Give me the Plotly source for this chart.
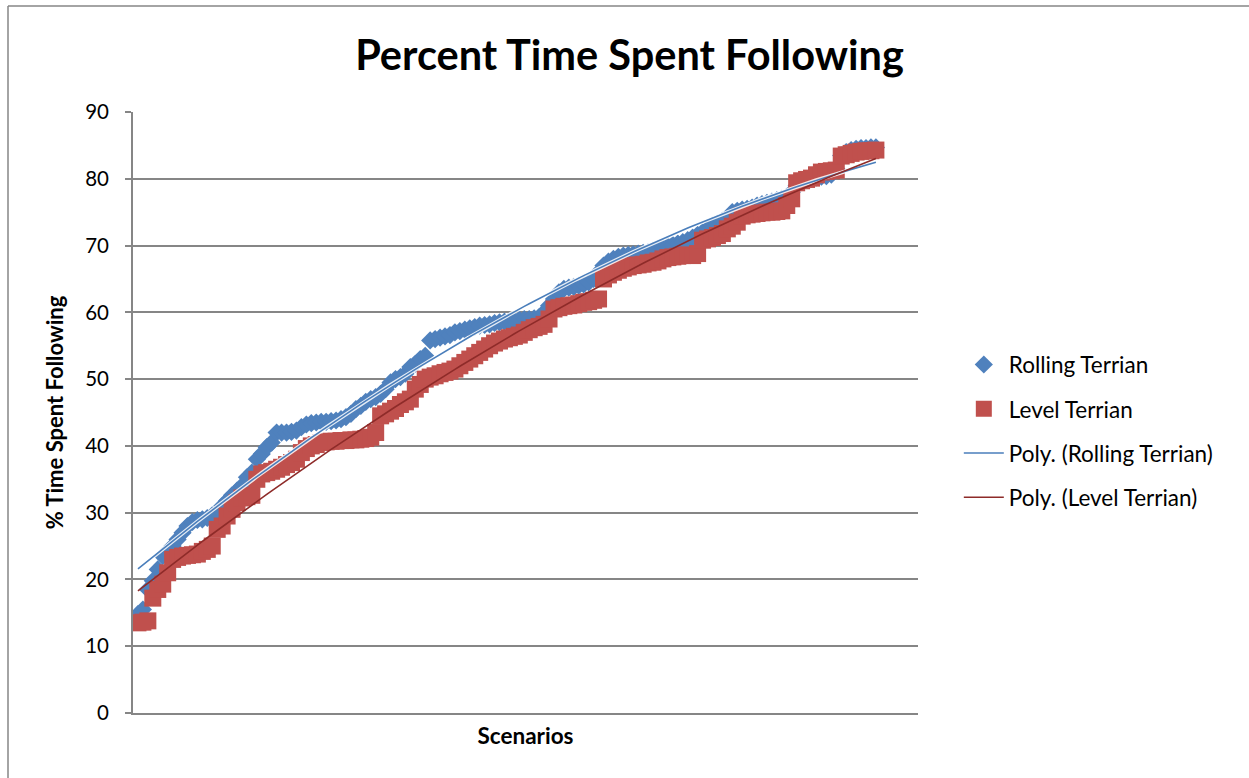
import numpy as np
import plotly.graph_objects as go

# Scenario index (x) and sorted percent-time-spent-following values
scenarios = list(range(1, 151))

rolling_terrain = [
    14.8, 15.5, 18.5, 19.8, 21.5, 23.5, 24.2, 25.0, 26.0, 27.0,
    28.0, 28.6, 28.9, 29.0, 29.2, 29.6, 30.0, 31.0, 31.8, 32.6,
    33.3, 34.0, 35.3, 36.0, 38.0, 38.8, 39.8, 40.5, 42.0, 42.0,
    42.0, 42.1, 42.3, 42.8, 43.2, 43.4, 43.5, 43.6, 43.6, 43.7,
    43.8, 44.0, 44.3, 44.8, 45.5, 46.0, 46.6, 47.0, 47.3, 47.8,
    48.5, 49.5, 50.0, 50.3, 50.8, 51.8, 52.3, 53.0, 53.5, 55.8,
    56.0, 56.2, 56.4, 56.6, 57.0, 57.2, 57.4, 57.6, 57.8, 58.0,
    58.1, 58.2, 58.4, 58.5, 58.6, 58.7, 58.8, 58.9, 59.0, 59.0,
    59.1, 59.3, 60.0, 61.0, 62.0, 63.0, 63.5, 63.7, 63.8, 64.0,
    64.2, 64.5, 65.0, 66.0, 67.0, 67.6, 68.0, 68.3, 68.5, 68.6,
    68.7, 68.8, 68.9, 69.0, 69.2, 69.5, 69.7, 69.9, 70.1, 70.3,
    70.5, 70.8, 71.2, 71.6, 72.0, 72.5, 73.0, 73.3, 73.7, 74.2,
    75.0, 75.2, 75.4, 75.5, 75.7, 76.0, 76.2, 76.4, 76.6, 76.8,
    77.0, 77.3, 78.0, 79.0, 79.5, 79.8, 80.0, 80.2, 80.3, 80.4,
    80.6, 81.5, 83.5, 84.0, 84.3, 84.5, 84.6, 84.6, 84.7, 84.7,
]

level_terrain = [
    13.5, 13.6, 13.8, 17.2, 18.5, 19.3, 21.0, 23.0, 23.3, 23.5,
    23.6, 23.7, 23.8, 24.2, 24.5, 25.0, 27.5, 28.0, 29.5, 30.5,
    31.5, 32.2, 32.4, 32.6, 35.0, 35.8, 36.0, 36.2, 36.5, 36.8,
    37.2, 37.5, 38.0, 39.0, 39.6, 40.0, 40.2, 40.5, 40.6, 40.7,
    40.7, 40.8, 40.8, 40.9, 40.9, 41.0, 41.1, 41.3, 42.0, 44.5,
    44.8, 45.2, 45.6, 46.2, 46.6, 47.0, 48.5, 49.2, 50.0, 50.3,
    50.5, 50.8, 51.0, 51.2, 51.5, 52.0, 52.5, 53.0, 53.5, 54.0,
    54.5, 55.0, 55.4, 55.7, 56.0, 56.2, 56.4, 56.6, 57.0, 57.4,
    57.7, 57.9, 58.2, 59.0, 60.5, 60.7, 60.9, 61.0, 61.1, 61.3,
    61.5, 61.6, 61.8, 62.0, 65.0, 65.6, 66.0, 66.3, 66.6, 66.8,
    67.0, 67.1, 67.2, 67.4, 67.5, 67.7, 68.0, 68.2, 68.3, 68.4,
    68.5, 68.6, 68.5, 68.8, 70.8, 71.0, 71.2, 71.5, 71.8, 72.5,
    72.9, 73.5, 74.4, 74.6, 74.7, 74.8, 74.9, 75.0, 75.0, 75.1,
    75.2, 76.0, 77.0, 79.4, 79.7, 79.9, 80.1, 80.6, 81.0, 81.1,
    81.2, 81.3, 83.4, 83.6, 83.8, 84.0, 84.1, 84.2, 84.2, 84.3,
]

y_ticks = [0, 10, 20, 30, 40, 50, 60, 70, 80, 90]

BLUE = "#4F81BD"
RED = "#C0504D"
BLUE_TREND = "#4A7EBB"
RED_TREND = "#8E2B29"
GRID = "#868686"
FONT = "Lato"

x = np.array(scenarios, dtype=float)


def poly_trend(values, order=2):
    coeffs = np.polyfit(x, np.array(values, dtype=float), order)
    return np.polyval(coeffs, x)


rolling_fit = poly_trend(rolling_terrain)
level_fit = poly_trend(level_terrain)

fig = go.Figure()

fig.add_trace(go.Scatter(
    x=scenarios, y=rolling_terrain, mode="markers", name="Rolling Terrian",
    marker=dict(symbol="diamond", size=14, color=BLUE, line=dict(width=0)),
    legendgroup="a",
))
fig.add_trace(go.Scatter(
    x=scenarios, y=level_terrain, mode="markers", name="Level Terrian",
    marker=dict(symbol="square", size=17, color=RED, line=dict(width=0)),
    legendgroup="b",
))
# soft white edge behind the rolling-terrain trendline
fig.add_trace(go.Scatter(
    x=scenarios, y=rolling_fit, mode="lines", showlegend=False,
    line=dict(color="rgba(255,255,255,0.85)", width=4), hoverinfo="skip",
))
fig.add_trace(go.Scatter(
    x=scenarios, y=rolling_fit, mode="lines", name="Poly. (Rolling Terrian)",
    line=dict(color=BLUE_TREND, width=1.6), legendgroup="c",
))
fig.add_trace(go.Scatter(
    x=scenarios, y=level_fit, mode="lines", name="Poly. (Level Terrian)",
    line=dict(color=RED_TREND, width=1.6), legendgroup="d",
))

fig.update_layout(
    width=1249, height=778,
    margin=dict(l=133, r=331, t=112, b=65),
    paper_bgcolor="white", plot_bgcolor="white",
    font=dict(family=FONT, size=20, color="black"),
    title=dict(
        text="<b>Percent Time Spent Following</b>",
        x=0.504, xref="container", xanchor="center",
        y=0.929, yref="container", yanchor="middle",
        font=dict(family=FONT, size=41.5, color="black"),
    ),
    legend=dict(
        x=1.052, xanchor="left", y=0.615, yanchor="top",
        font=dict(family=FONT, size=22.5, color="black"),
        tracegroupgap=12, itemwidth=40, bgcolor="rgba(0,0,0,0)",
    ),
    showlegend=True,
)

fig.update_xaxes(
    range=[0, 158.5], showgrid=False, zeroline=False,
    showticklabels=False, ticks="",
    showline=True, linecolor=GRID, linewidth=1.5,
    title=dict(text="<b>Scenarios</b>", font=dict(family=FONT, size=22.5), standoff=14),
)
fig.update_yaxes(
    range=[0, 90], tickvals=y_ticks, ticktext=[str(v) for v in y_ticks],
    showgrid=True, gridcolor=GRID, gridwidth=1.8, zeroline=False,
    showline=True, linecolor=GRID, linewidth=1.8,
    ticks="outside", ticklen=6, tickcolor=GRID, tickwidth=1.5,
    ticklabelstandoff=12,
    tickfont=dict(family=FONT, size=20.5, color="black"),
    title=dict(text="<b>% Time Spent Following</b>", font=dict(family=FONT, size=22), standoff=16),
)

# outer chart border (left and top edges fall inside the page)
fig.add_shape(type="line", xref="paper", yref="paper",
              x0=(8 - 133) / 785, x1=1.5, y0=(713 - 6) / 601, y1=(713 - 6) / 601,
              line=dict(color=GRID, width=1.5))
fig.add_shape(type="line", xref="paper", yref="paper",
              x0=(8 - 133) / 785, x1=(8 - 133) / 785, y0=-0.2, y1=(713 - 6) / 601,
              line=dict(color=GRID, width=1.5))

fig.write_html("out.html")
